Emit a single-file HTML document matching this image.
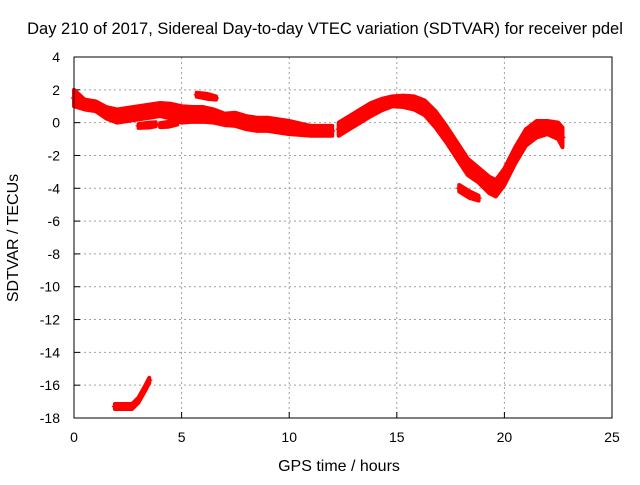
<!DOCTYPE html>
<html><head><meta charset="utf-8"><style>
body{margin:0;background:#fff}
svg{font-family:"Liberation Sans",sans-serif;font-size:14px}
</style></head><body>
<svg id="chart" width="640" height="480">
<text x="325" y="34" text-anchor="middle" font-size="16.5">Day 210 of 2017, Sidereal Day-to-day VTEC variation (SDTVAR) for receiver pdel</text>
<text x="339" y="471" text-anchor="middle" font-size="16">GPS time / hours</text>
<text transform="translate(18,238) rotate(-90)" text-anchor="middle" font-size="16">SDTVAR / TECUs</text>
<g id="grid"></g><g id="series"></g>
<rect x="74" y="57" width="538" height="361" fill="none" stroke="#000"/>
</svg>
<script>
const xTicks=[0,5,10,15,20,25];
const yTicks=[4,2,0,-2,-4,-6,-8,-10,-12,-14,-16,-18];
// bands: time, center, half-width
const bandATime=[0,0.5,1,1.5,2,2.5,3,3.5,4,4.5,5,5.5,6,6.5,7,7.5,8,8.5,9,9.5,10,10.5,11,11.5,12];
const bandACenter=[1.5,1.1,1.0,0.6,0.4,0.5,0.6,0.7,0.8,0.7,0.5,0.5,0.5,0.4,0.2,0.2,0.0,-0.1,-0.1,-0.2,-0.3,-0.4,-0.5,-0.5,-0.5];
const bandAHalf=[0.5,0.3,0.3,0.35,0.4,0.4,0.4,0.4,0.4,0.45,0.5,0.45,0.45,0.4,0.35,0.4,0.4,0.4,0.4,0.4,0.4,0.35,0.3,0.3,0.3];
const bandBTime=[12.3,12.8,13.3,13.8,14.3,14.8,15.3,15.8,16.3,16.8,17.3,17.8,18.3,18.8,19.3,19.6,20,20.5,21,21.5,22,22.5,22.7];
const bandBCenter=[-0.4,0,0.4,0.8,1.1,1.3,1.3,1.2,0.9,0.2,-0.7,-1.7,-2.7,-3.2,-3.8,-4.0,-3.3,-2.0,-0.9,-0.4,-0.3,-0.5,-0.9];
const bandBHalf=[0.4,0.4,0.4,0.4,0.35,0.3,0.35,0.4,0.45,0.5,0.5,0.5,0.5,0.45,0.5,0.5,0.5,0.5,0.5,0.5,0.4,0.5,0.6];
const bandCTime=[1.9,2.3,2.7,3.0,3.3,3.5];
const bandCCenter=[-17.3,-17.3,-17.3,-16.9,-16.2,-15.7];
const bandCHalf=[0.15,0.15,0.15,0.15,0.15,0.15];
const bandDTime=[17.9,18.4,18.8];
const bandDCenter=[-4.0,-4.4,-4.6];
const bandDHalf=[0.2,0.2,0.15];
const bandETime=[5.7,6.2,6.6];
const bandECenter=[1.7,1.6,1.5];
const bandEHalf=[0.12,0.15,0.1];
const bandFTime=[3.0,3.5,3.8];
const bandFCenter=[-0.2,-0.15,-0.1];
const bandFHalf=[0.12,0.15,0.12];
const bandGTime=[4.0,4.4,4.8];
const bandGCenter=[-0.15,-0.1,0.0];
const bandGHalf=[0.12,0.15,0.12];

const X=t=>74+t*538/25;
const Y=v=>57+(4-v)*361/22;
const NS="http://www.w3.org/2000/svg";
const grid=document.getElementById('grid'),ser=document.getElementById('series');
function mk(tag,attrs,parent){const e=document.createElementNS(NS,tag);for(const k in attrs)e.setAttribute(k,attrs[k]);parent.appendChild(e);return e;}
xTicks.forEach(t=>{
  if(t>0&&t<25){const l=mk('line',{x1:X(t),x2:X(t),y1:57,y2:418,stroke:'#a0a0a0','stroke-dasharray':'2,3'},grid);
  
  }
  const k=mk('line',{x1:X(t),x2:X(t),y1:418,y2:412,stroke:'#000'},grid);
  
  
  const tx=mk('text',{x:X(t),y:442,'text-anchor':'middle'},grid);tx.textContent=t;
  
  
});
yTicks.forEach(v=>{
  if(v<4&&v>-18){const l=mk('line',{x1:74,x2:612,y1:Y(v),y2:Y(v),stroke:'#a0a0a0','stroke-dasharray':'2,3'},grid);
  
  }
  const k=mk('line',{x1:74,x2:80,y1:Y(v),y2:Y(v),stroke:'#000'},grid);
  
  
  const tx=mk('text',{x:60,y:Y(v)+5,'text-anchor':'end'},grid);tx.textContent=v;
  
  
});
function band(ts,cs,hs,name){
  let up=[],dn=[];
  ts.forEach((t,i)=>{up.push(X(t)+','+Y(cs[i]+hs[i]));dn.unshift(X(t)+','+Y(cs[i]-hs[i]));});
  const p=mk('polygon',{points:up.concat(dn).join(' '),fill:'#ff0000',stroke:'#ff0000','stroke-width':4,'stroke-linejoin':'round'},ser);
  
  
  ts.forEach((t,i)=>{
    const m=mk('path',{d:`M${X(t)-3},${Y(cs[i])}h6M${X(t)},${Y(cs[i])-3}v6`,stroke:'#ff0000','stroke-width':1.2},ser);
    
    
  });
}
band(bandATime,bandACenter,bandAHalf,'sdtvar-band-early');
band(bandBTime,bandBCenter,bandBHalf,'sdtvar-band-late');
band(bandCTime,bandCCenter,bandCHalf,'sdtvar-outlier-low');
band(bandDTime,bandDCenter,bandDHalf,'sdtvar-dip-island');
band(bandETime,bandECenter,bandEHalf,'sdtvar-high-island');
band(bandFTime,bandFCenter,bandFHalf,'sdtvar-small-blob');
band(bandGTime,bandGCenter,bandGHalf,'sdtvar-small-blob');
</script>
</body></html>
